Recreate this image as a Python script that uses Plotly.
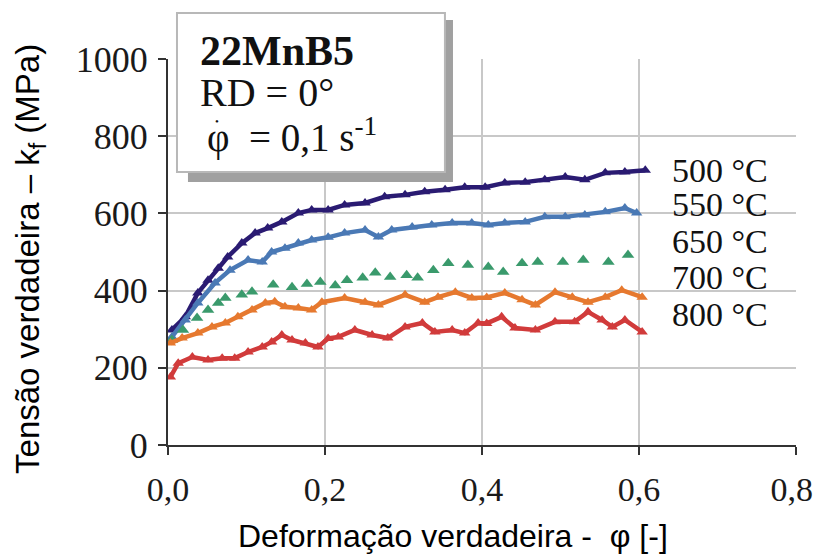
import plotly.graph_objects as go

# ---------------- data ----------------
x_tick_vals = [0.0, 0.2, 0.4, 0.6, 0.8]
x_tick_text = ["0,0", "0,2", "0,4", "0,6", "0,8"]
y_tick_vals = [0, 200, 400, 600, 800, 1000]
y_tick_text = ["0", "200", "400", "600", "800", "1000"]

series_names = ["500 °C", "550 °C", "650 °C", "700 °C", "800 °C"]

x_500 = [0.005, 0.022, 0.038, 0.051, 0.064, 0.076, 0.094, 0.111, 0.127, 0.145, 0.166, 0.183, 0.204,
         0.225, 0.251, 0.276, 0.302, 0.327, 0.353, 0.378, 0.404, 0.429, 0.455, 0.48, 0.506, 0.531,
         0.557, 0.582, 0.608]
y_500 = [298, 332, 394, 427, 458, 487, 523, 549, 562, 578, 601, 609, 609,
         622, 627, 643, 648, 656, 661, 668, 668, 679, 681, 687, 694, 687,
         705, 707, 712]

x_550 = [0.005, 0.022, 0.038, 0.06, 0.079, 0.102, 0.12, 0.132, 0.149, 0.166, 0.183, 0.204,
         0.225, 0.251, 0.268, 0.285, 0.311, 0.336, 0.362, 0.387, 0.408, 0.429, 0.455, 0.48,
         0.506, 0.531, 0.557, 0.582, 0.597]
y_550 = [280, 324, 368, 420, 453, 479, 474, 500, 510, 523, 531, 538,
         549, 557, 539, 557, 565, 570, 575, 575, 570, 575, 578, 591,
         591, 596, 604, 614, 601]

x_650 = [0.005, 0.019, 0.037, 0.051, 0.064, 0.073, 0.094, 0.107, 0.134, 0.158, 0.177, 0.194,
         0.213, 0.228, 0.248, 0.264, 0.283, 0.304, 0.318, 0.338, 0.357, 0.382, 0.408, 0.427,
         0.451, 0.471, 0.503, 0.529, 0.561, 0.586]
y_650 = [272, 298, 329, 350, 368, 381, 389, 397, 415, 409, 417, 422,
         413, 427, 433, 446, 435, 440, 433, 453, 471, 466, 461, 448,
         471, 474, 474, 479, 474, 492]

x_700 = [0.003, 0.018, 0.038, 0.056, 0.073, 0.089, 0.107, 0.124, 0.136, 0.149, 0.166, 0.183,
         0.196, 0.225, 0.251, 0.268, 0.302, 0.327, 0.344, 0.366, 0.387, 0.406, 0.429, 0.451,
         0.468, 0.493, 0.515, 0.535, 0.557, 0.578, 0.604]
y_700 = [264, 277, 290, 306, 316, 332, 350, 368, 371, 358, 355, 350,
         370, 381, 370, 363, 389, 370, 383, 396, 381, 382, 394, 376,
         363, 396, 383, 370, 383, 401, 383]

x_800 = [0.003, 0.013, 0.031, 0.051, 0.069, 0.085, 0.102, 0.12, 0.132, 0.145, 0.158, 0.175,
         0.191, 0.204, 0.217, 0.238, 0.26, 0.28, 0.302, 0.324, 0.34, 0.362, 0.378, 0.395,
         0.406, 0.425, 0.442, 0.468, 0.493, 0.518, 0.535, 0.553, 0.566, 0.582, 0.604]
y_800 = [176, 212, 228, 220, 225, 225, 241, 254, 267, 285, 272, 264,
         254, 276, 280, 298, 285, 277, 306, 316, 293, 298, 290, 316,
         315, 332, 303, 298, 319, 319, 345, 324, 306, 324, 293]

# ---------------- styling ----------------
colors = ["#2a1b72", "#4a79b5", "#3a9a6c", "#e6792f", "#d13b3b"]
xs = [x_500, x_550, x_650, x_700, x_800]
ys = [y_500, y_550, y_650, y_700, y_800]
dense = [True, True, False, True, True]
label_y = [712, 622, 526, 433, 337]

SERIF = "Liberation Serif, Times New Roman, serif"
SANS = "Liberation Sans, Arial, sans-serif"

# keep the last x tick label inside the page (pad it on the right)
x_tick_shown = [t if i < len(x_tick_text) - 1 else t + "\u00a0" for i, t in enumerate(x_tick_text)]

fig = go.Figure()
for name, x, y, c, d in zip(series_names, xs, ys, colors, dense):
    if d:
        fig.add_trace(go.Scatter(
            x=x, y=y, name=name, mode="lines+markers",
            line=dict(color=c, width=4.5),
            marker=dict(symbol="triangle-up", size=10, color=c),
            showlegend=False, hoverinfo="skip"))
    else:
        fig.add_trace(go.Scatter(
            x=x, y=y, name=name, mode="markers",
            marker=dict(symbol="triangle-up", size=11, color=c),
            showlegend=False, hoverinfo="skip"))

annotations = []
for name, ly in zip(series_names, label_y):
    annotations.append(dict(
        x=0.6395, y=ly, xref="x", yref="y", text=name, showarrow=False,
        xanchor="left", yanchor="middle",
        font=dict(family=SERIF, size=34, color="#111111")))

# info box texts
annotations += [
    dict(x=0.0478, y=1.022, xref="paper", yref="paper", text="<b>22MnB5</b>",
         showarrow=False, xanchor="left", yanchor="middle",
         font=dict(family=SERIF, size=42, color="#111111")),
    dict(x=0.0478, y=0.913, xref="paper", yref="paper", text="RD = 0°",
         showarrow=False, xanchor="left", yanchor="middle",
         font=dict(family=SERIF, size=40, color="#111111")),
    dict(x=0.0589, y=0.803, xref="paper", yref="paper",
         text="\u03c6\u00a0\u00a0= 0,1 s<sup>-1</sup>",
         showarrow=False, xanchor="left", yanchor="middle",
         font=dict(family=SERIF, size=39, color="#111111")),
    dict(x=0.0775, y=0.840, xref="paper", yref="paper", text="\u2022",
         showarrow=False, xanchor="center", yanchor="middle",
         font=dict(family=SERIF, size=11, color="#111111")),
    # axis titles
    dict(x=0.4538, y=-0.2358, xref="paper", yref="paper",
         text="Deformação verdadeira -\u00a0\u00a0φ [-]",
         showarrow=False, xanchor="center", yanchor="middle",
         font=dict(family=SANS, size=32, color="#000000")),
    dict(x=-0.2197, y=0.482, xref="paper", yref="paper",
         text="Tensão verdadeira – k<sub>f</sub> (MPa)", textangle=-90,
         showarrow=False, xanchor="center", yanchor="middle",
         font=dict(family=SANS, size=33, color="#000000")),
]

shapes = [
    # shadow
    dict(type="rect", xref="paper", yref="paper", x0=0.0318, x1=0.4538, y0=0.6813, y1=1.101,
         fillcolor="#a0a0a0", line=dict(width=0), layer="above"),
    # box
    dict(type="rect", xref="paper", yref="paper", x0=0.0143, x1=0.441, y0=0.7073, y1=1.119,
         fillcolor="#ffffff", line=dict(color="#b8b8b8", width=2), layer="above"),
]

fig.update_layout(
    width=816, height=556,
    margin=dict(l=168, r=20, t=59, b=111, autoexpand=False),
    paper_bgcolor="white", plot_bgcolor="white",
    showlegend=False,
    annotations=annotations,
    shapes=shapes,
    xaxis=dict(range=[0, 0.8], tickvals=x_tick_vals, ticktext=x_tick_shown,
               showline=True, linecolor="#333333", linewidth=2,
               ticks="outside", ticklen=8, tickwidth=2, tickcolor="#333333",
               showgrid=True, gridcolor="#c8c8c8", gridwidth=2, zeroline=False,
               tickfont=dict(family=SERIF, size=34, color="#1a1a1a"),
               ticklabelstandoff=5, automargin=False, ticklabeloverflow="allow"),
    yaxis=dict(range=[0, 1000], tickvals=y_tick_vals, ticktext=y_tick_text,
               showline=True, linecolor="#333333", linewidth=2,
               ticks="outside", ticklen=8, tickwidth=2, tickcolor="#333333",
               showgrid=True, gridcolor="#c8c8c8", gridwidth=2, zeroline=False,
               tickfont=dict(family=SERIF, size=36, color="#1a1a1a"),
               ticklabelstandoff=3, automargin=False, ticklabeloverflow="allow"),
)

fig.write_html("out.html", config={"displayModeBar": False},
               post_script="document.body.style.margin='0px';document.body.style.padding='0px';document.body.style.overflow='hidden';")
